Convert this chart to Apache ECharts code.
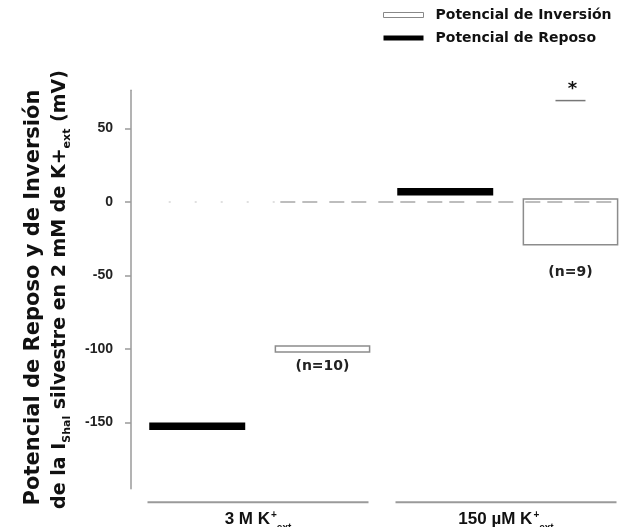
<!DOCTYPE html>
<html>
<head>
<meta charset="utf-8">
<script src="https://cdn.jsdelivr.net/npm/echarts@6/dist/echarts.min.js"></script>
<style>
  html, body { margin: 0; padding: 0; background: #fff; }
  #chart { width: 619px; height: 527px; }
</style>
</head>
<body>
<div id="chart"></div>
<script>
// Conditions on the category axis
const categories = ['3 M K', '150 µM K'];

// Resting potential (mV): top and bottom edge of each floating bar
const reposoTop = [-150, 9.5];
const reposoBottom = [-155, 4.5];

// Reversal potential (mV): top and bottom edge of each floating bar
const inversionTop = [-98, 2];
const inversionBottom = [-102, -29];

// Sample sizes and where they sit (mV)
const nLabels = ['(n=10)', '(n=9)'];
const nLabelValues = [-112, -48];

// Significance marks above each condition
const significance = ['', '*'];
const significanceValue = 69;

// Value axis
const yTicks = [-150, -100, -50, 0, 50];
const yMin = -195;
const yMax = 76;

const chart = echarts.init(document.getElementById('chart'));

const BOLD_SANS = 'Liberation Sans, Arial, sans-serif';
const GEO = 'DejaVu Sans, sans-serif';

function reposoItem(params, api) {
  const i = api.value(0);
  const top = api.coord([i, api.value(1)]);
  const bot = api.coord([i, api.value(2)]);
  const band = api.size([1, 0])[0];
  const w = band * 0.387;
  const cx = top[0] - band * 0.245;
  return {
    type: 'rect',
    shape: { x: cx - w / 2, y: top[1], width: w, height: bot[1] - top[1] },
    style: { fill: '#000' }
  };
}

function inversionItem(params, api) {
  const i = api.value(0);
  const top = api.coord([i, api.value(1)]);
  const bot = api.coord([i, api.value(2)]);
  const nPos = api.coord([i, api.value(3)]);
  const band = api.size([1, 0])[0];
  const w = band * 0.38;
  const cx = top[0] + band * 0.26;
  const children = [
    {
      type: 'rect',
      shape: { x: cx - w / 2, y: top[1], width: w, height: bot[1] - top[1] },
      style: { fill: '#fff', stroke: '#8c8c8c', lineWidth: 1.5 }
    },
    {
      type: 'text',
      style: {
        text: nLabels[params.dataIndex], x: cx, y: nPos[1],
        align: 'center', verticalAlign: 'middle',
        font: 'bold 14px ' + GEO, fill: '#222'
      }
    }
  ];
  const mark = significance[params.dataIndex];
  if (mark) {
    const s = api.coord([i, significanceValue]);
    children.push({
      type: 'line',
      shape: { x1: cx - 15, y1: s[1], x2: cx + 15, y2: s[1] },
      style: { stroke: '#777', lineWidth: 1.5 }
    });
    children.push({
      type: 'text',
      style: {
        text: mark, x: cx + 2, y: s[1] - 2,
        align: 'center', verticalAlign: 'bottom',
        font: 'bold 18px ' + GEO, fill: '#111'
      }
    });
  }
  return { type: 'group', children: children };
}

function zeroLineItem(params, api) {
  const band = api.size([1, 0])[0];
  const p0 = api.coord([0, 0]);
  const p1 = api.coord([1, 0]);
  const xStart = p0[0] - band * 0.36;
  const xMid = p0[0] + band * 0.09;
  const xEnd = p1[0] + band * 0.447;
  return {
    type: 'group',
    children: [
      {
        type: 'line',
        shape: { x1: xStart, y1: p0[1], x2: xMid, y2: p0[1] },
        style: { stroke: '#d6d6d6', lineWidth: 1.5, lineDash: [2, 24] }
      },
      {
        type: 'line',
        shape: { x1: xMid, y1: p0[1], x2: xEnd, y2: p0[1] },
        style: { stroke: '#a8a8a8', lineWidth: 1.5, lineDash: [15, 7, 15, 12] }
      }
    ]
  };
}

function groupLineItem(params, api) {
  const i = api.value(0);
  const base = api.coord([i, yMin]);
  const band = api.size([1, 0])[0];
  const half = band / 2 - 13.5;
  const y = base[1] + 13.5;
  return {
    type: 'line',
    shape: { x1: base[0] - half, y1: y, x2: base[0] + half, y2: y },
    style: { stroke: '#9a9a9a', lineWidth: 2 }
  };
}

const option = {
  animation: false,
  backgroundColor: '#fff',
  grid: { left: 134, right: -11, top: 90.3, bottom: 38.3, containLabel: false, outerBoundsMode: 'none' },
  legend: {
    orient: 'vertical',
    left: 383,
    top: 8,
    padding: 0,
    itemWidth: 40,
    itemHeight: 5,
    itemGap: 9,
    selectedMode: false,
    textStyle: { fontFamily: GEO, fontWeight: 'bold', fontSize: 14, color: '#111', padding: [0, 0, 0, 7] },
    data: [
      { name: 'Potencial de Inversión', icon: 'rect', itemStyle: { color: '#fff', borderColor: '#888', borderWidth: 1 } },
      { name: 'Potencial de Reposo', icon: 'rect', itemStyle: { color: '#000' } }
    ]
  },
  xAxis: {
    type: 'category',
    data: categories,
    axisLine: { show: false },
    axisTick: { show: false },
    splitLine: { show: false },
    axisLabel: {
      margin: 22,
      interval: 0,
      formatter: v => '{b|' + v + '}{sup|+}{sub|ext}',
      rich: {
        b: { fontFamily: BOLD_SANS, fontWeight: 'bold', fontSize: 17, color: '#111', lineHeight: 18 },
        sup: { fontFamily: BOLD_SANS, fontWeight: 'bold', fontSize: 10, color: '#111', lineHeight: 18, verticalAlign: 'top', padding: [0, 0, 0, 1] },
        sub: { fontFamily: BOLD_SANS, fontWeight: 'bold', fontSize: 10, color: '#111', lineHeight: 18, verticalAlign: 'bottom', padding: [0, 0, -5, 0] }
      }
    }
  },
  yAxis: {
    type: 'value',
    min: yMin,
    max: yMax,
    offset: 3,
    splitLine: { show: false },
    axisLine: { show: true, lineStyle: { color: '#9a9a9a', width: 1.5 } },
    axisTick: { show: true, length: 6, customValues: yTicks, lineStyle: { color: '#9a9a9a', width: 1.5 } },
    axisLabel: {
      customValues: yTicks,
      margin: 18,
      fontFamily: BOLD_SANS, fontWeight: 'bold', fontSize: 14, color: '#222'
    },
    name: '{a|Potencial de Reposo y de Inversión}\n{t|de la I}{s|Shal}{t| silvestre en 2 mM de K+}{s|ext}{t| (mV)}',
    nameLocation: 'middle',
    nameRotate: 90,
    nameGap: 57,
    nameTextStyle: {
      rich: {
        a: { fontFamily: GEO, fontWeight: 'bold', fontSize: 21, lineHeight: 27, color: '#111', padding: [0, 16, 0, 0] },
        t: { fontFamily: GEO, fontWeight: 'bold', fontSize: 19, lineHeight: 27, color: '#111' },
        s: { fontFamily: GEO, fontWeight: 'bold', fontSize: 11, lineHeight: 27, color: '#111', verticalAlign: 'bottom', padding: [0, 0, 1, 0] }
      }
    }
  },
  series: [
    {
      name: 'Potencial de Inversión',
      type: 'custom',
      z: 2,
      renderItem: inversionItem,
      encode: { x: 0, y: [1, 2] },
      itemStyle: { color: '#fff', borderColor: '#888' },
      data: categories.map((c, i) => [i, inversionTop[i], inversionBottom[i], nLabelValues[i]])
    },
    {
      name: 'Potencial de Reposo',
      type: 'custom',
      z: 2,
      renderItem: reposoItem,
      encode: { x: 0, y: [1, 2] },
      itemStyle: { color: '#000' },
      data: categories.map((c, i) => [i, reposoTop[i], reposoBottom[i]])
    },
    {
      name: 'zero',
      type: 'custom',
      z: 3,
      silent: true,
      renderItem: zeroLineItem,
      data: [[0, 0]]
    },
    {
      name: 'groups',
      type: 'custom',
      z: 1,
      silent: true,
      renderItem: groupLineItem,
      data: categories.map((c, i) => [i])
    }
  ]
};

chart.setOption(option);
</script>
</body>
</html>
